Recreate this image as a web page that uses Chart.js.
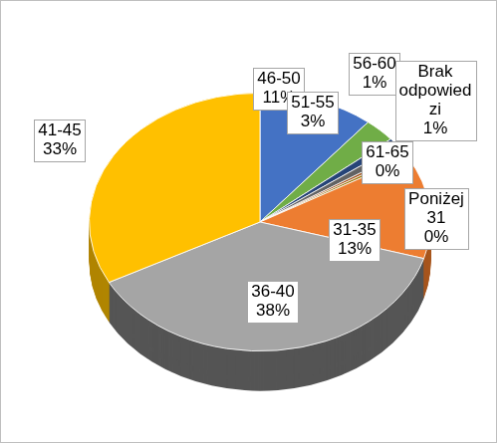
<!DOCTYPE html><html lang="pl"><meta charset="utf-8">
<title>Wiek</title>
<script src="https://cdn.jsdelivr.net/npm/chart.js@4.4.1"></script>
<style>
body{margin:0;background:#fff}
canvas{display:block;box-sizing:border-box;border:1px solid #bfbfbf}
</style>
<body>
<canvas id="chart" width="497" height="443"></canvas>
<script>
const labels = [['46-50'],['51-55'],['56-60'],['Brak','odpowied','zi'],['61-65'],['Poniżej','31'],['31-35'],['36-40'],['41-45']];
const values = [11, 3, 1, 1, 0.4, 0.4, 13, 38, 33];
const colors = ['#4472c4','#70ad47','#264478','#636363','#9e480e','#997300','#ed7d31','#a5a5a5','#ffc000'];
const sides  = ['#2c4c86','#4a7a2d','#182c4e','#3c3c3c','#66300a','#664c00','#a8561f','#555555','#b08500'];
// label box centres (page layout, not data)
const labelPos = [[279,88],[313,112],[375,73],[436,100],[388,162],[437,218],[355,240],[273,302],[59,140]];

const K = 0.756, DEPTH = 40;
const tilt = {
  id:'tilt',
  beforeDatasetsDraw(c){
    const ctx = c.ctx, a = c.getDatasetMeta(0).data;
    const cx = a[0].x, cy = a[0].y;
    ctx.save();
    ctx.translate(cx,cy); ctx.scale(1,K); ctx.translate(-cx,-cy);
    for(let d=DEPTH; d>0; d--){
      const off = d/K;
      a.forEach((el,i)=>{
        ctx.beginPath();
        ctx.moveTo(el.x, el.y+off);
        ctx.arc(el.x, el.y+off, el.outerRadius, el.startAngle, el.endAngle);
        ctx.closePath();
        ctx.fillStyle = sides[i];
        ctx.fill();
      });
    }
  },
  afterDatasetsDraw(c){
    const ctx = c.ctx;
    ctx.restore();
    ctx.save();
    ctx.font = '17px "Liberation Sans", Arial, sans-serif';
    ctx.textAlign = 'center'; ctx.textBaseline = 'middle';
    const total = values.reduce((s,v)=>s+v,0);
    labels.forEach((lab,i)=>{
      const lines = [...lab, Math.round(values[i]/total*100)+'%'];
      const w = Math.max(...lines.map(t=>ctx.measureText(t).width)) + 8;
      const h = lines.length*19 + 4;
      const [x,y] = labelPos[i];
      ctx.fillStyle = '#fff'; ctx.strokeStyle = '#a6a6a6'; ctx.lineWidth = 1;
      ctx.fillRect(Math.round(x-w/2)+.5, Math.round(y-h/2)+.5, Math.round(w), h);
      ctx.strokeRect(Math.round(x-w/2)+.5, Math.round(y-h/2)+.5, Math.round(w), h);
      ctx.fillStyle = '#000';
      lines.forEach((t,j)=>ctx.fillText(t, x, y-h/2+2+9.5+j*19));
    });
    ctx.restore();
  }
};

new Chart(document.getElementById('chart'),{
  type:'pie',
  data:{labels:labels.map(l=>l.join(' ')),datasets:[{data:values,backgroundColor:colors,borderColor:'#fff',borderWidth:1}]},
  options:{
    responsive:false, animation:false,
    layout:{padding:{left:88,right:65,top:50,bottom:49}},
    plugins:{legend:{display:false},tooltip:{enabled:false}}
  },
  plugins:[tilt]
});
</script>
</body></html>
